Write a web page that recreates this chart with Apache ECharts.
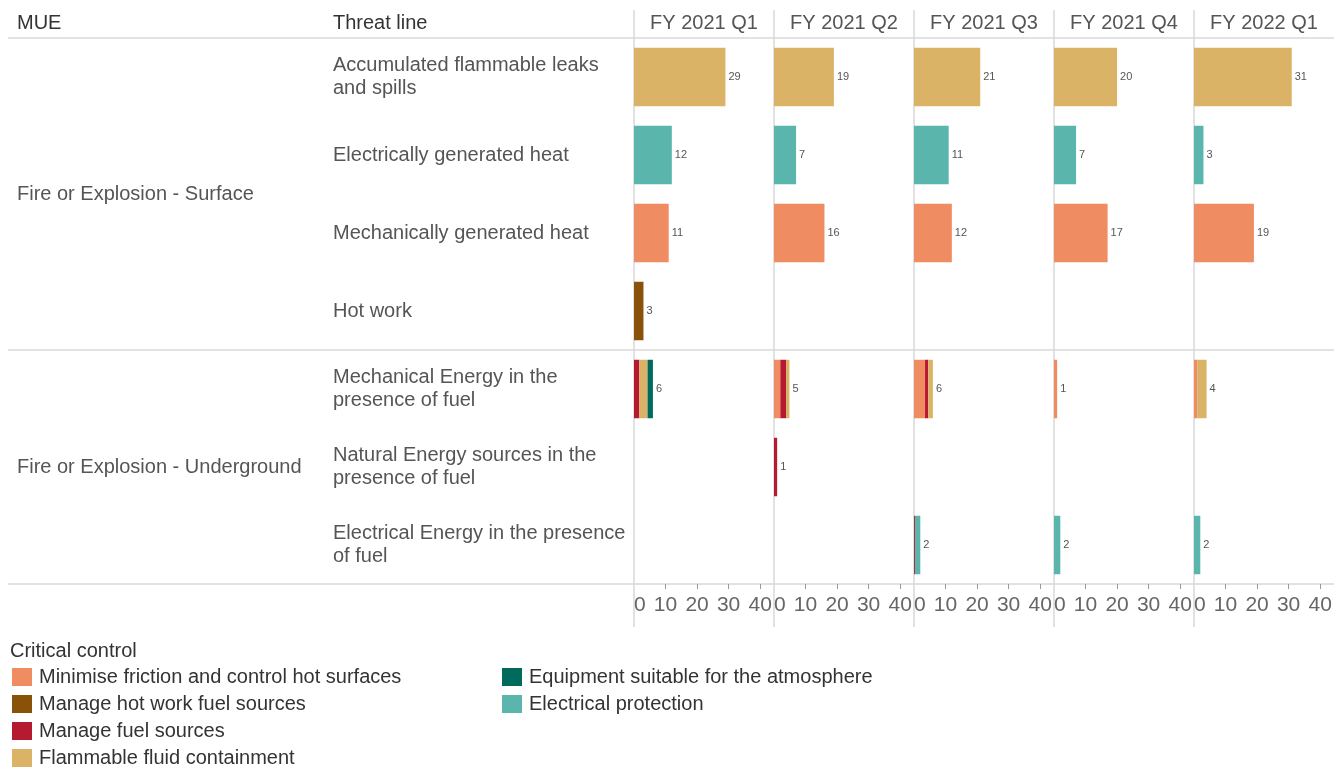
<!DOCTYPE html>
<html>
<head>
<meta charset="utf-8">
<script src="https://cdn.jsdelivr.net/npm/echarts@6/dist/echarts.min.js"></script>
<style>
  html, body { margin: 0; padding: 0; background: #fff; }
  #chart { width: 1340px; height: 767px; }
</style>
</head>
<body>
<div id="chart"></div>
<script>
// quarters (columns) and rows
const quarters = ['FY 2021 Q1', 'FY 2021 Q2', 'FY 2021 Q3', 'FY 2021 Q4', 'FY 2022 Q1']
const threats = [
  'Accumulated flammable leaks\nand spills',
  'Electrically generated heat',
  'Mechanically generated heat',
  'Hot work',
  'Mechanical Energy in the\npresence of fuel',
  'Natural Energy sources in the\npresence of fuel',
  'Electrical Energy in the presence\nof fuel'
]
const mues = ['Fire or Explosion - Surface', 'Fire or Explosion - Underground']
const mueRows = [4, 3]
const tickLabels = [0, 10, 20, 30, 40]

const controls = [
  'Minimise friction and control hot surfaces',
  'Manage hot work fuel sources',
  'Manage fuel sources',
  'Flammable fluid containment',
  'Equipment suitable for the atmosphere',
  'Electrical protection'
]
const colors = ['#f08c62', '#8a5209', '#b51a30', '#dbb366', '#006b5d', '#5ab6ac']

// values per control: one row per threat line, one value per quarter
const friction = [
  [0, 0, 0, 0, 0],
  [0, 0, 0, 0, 0],
  [11, 16, 12, 17, 19],
  [0, 0, 0, 0, 0],
  [0, 2, 3.5, 1, 1],
  [0, 0, 0, 0, 0],
  [0, 0, 0, 0, 0]
]
const hotWork = [
  [0, 0, 0, 0, 0],
  [0, 0, 0, 0, 0],
  [0, 0, 0, 0, 0],
  [3, 0, 0, 0, 0],
  [0, 0, 0, 0, 0],
  [0, 0, 0, 0, 0],
  [0, 0, 0, 0, 0]
]
const fuelSources = [
  [0, 0, 0, 0, 0],
  [0, 0, 0, 0, 0],
  [0, 0, 0, 0, 0],
  [0, 0, 0, 0, 0],
  [1.7, 1.8, 1, 0, 0],
  [0, 1, 0, 0, 0],
  [0, 0, 0.3, 0, 0]
]
const fluidContainment = [
  [29, 19, 21, 20, 31],
  [0, 0, 0, 0, 0],
  [0, 0, 0, 0, 0],
  [0, 0, 0, 0, 0],
  [2.6, 1.1, 1.5, 0, 3],
  [0, 0, 0, 0, 0],
  [0, 0, 0, 0, 0]
]
const equipment = [
  [0, 0, 0, 0, 0],
  [0, 0, 0, 0, 0],
  [0, 0, 0, 0, 0],
  [0, 0, 0, 0, 0],
  [1.7, 0, 0, 0, 0],
  [0, 0, 0, 0, 0],
  [0, 0, 0, 0, 0]
]
const electrical = [
  [0, 0, 0, 0, 0],
  [12, 7, 11, 7, 3],
  [0, 0, 0, 0, 0],
  [0, 0, 0, 0, 0],
  [0, 0, 0, 0, 0],
  [0, 0, 0, 0, 0],
  [0, 0, 1.7, 2, 2]
]
const controlData = [friction, hotWork, fuelSources, fluidContainment, equipment, electrical]

// layout
const panelLeft = 634
const panelW = 140
const gridTop = 38
const rowH = 78
const gridBottom = gridTop + rowH * threats.length
const font = '"Liberation Sans", Arial, sans-serif'
const fs = 20

let myChart = echarts.init(document.getElementById('chart'))

let grids = []
let xAxes = []
let yAxes = []
let series = []
let graphics = []

quarters.forEach((q, qi) => {
  grids.push({ left: panelLeft + panelW * qi, top: gridTop, width: panelW, height: gridBottom - gridTop })
  xAxes.push({
    gridIndex: qi,
    type: 'value',
    min: 0,
    max: 44.4,
    axisLine: { show: false },
    splitLine: { show: false },
    axisTick: { show: true, length: 5, customValues: tickLabels.slice(1), lineStyle: { color: '#999' } },
    axisLabel: {
      customValues: tickLabels,
      margin: 11,
      fontFamily: '"Liberation Sans Narrow", "Liberation Sans", sans-serif',
      fontSize: 21,
      color: '#666',
      alignMinLabel: 'left'
    }
  })
  yAxes.push({
    gridIndex: qi,
    type: 'category',
    inverse: true,
    data: threats,
    axisLine: { show: false },
    axisTick: { show: false },
    axisLabel: qi === 0 ? {
      align: 'left',
      margin: panelLeft - 333,
      fontFamily: font,
      fontSize: fs,
      lineHeight: 23,
      color: '#555'
    } : { show: false }
  })
  controls.forEach((c, ci) => {
    series.push({
      name: c,
      type: 'bar',
      xAxisIndex: qi,
      yAxisIndex: qi,
      stack: 'q' + qi,
      barCategoryGap: '25%',
      itemStyle: { color: colors[ci] },
      data: controlData[ci].map(row => row[qi] > 0 ? row[qi] : '-')
    })
  })
  // zero-width bar on top of each stack to carry the total label
  let totals = threats.map((t, ti) => controlData.reduce((s, arr) => s + arr[ti][qi], 0))
  series.push({
    name: 'total',
    type: 'bar',
    xAxisIndex: qi,
    yAxisIndex: qi,
    stack: 'q' + qi,
    itemStyle: { color: 'transparent' },
    data: totals.map(v => v > 0 ? 0 : '-'),
    label: {
      show: true,
      position: 'right',
      distance: 3,
      fontFamily: font,
      fontSize: 11,
      color: '#555',
      formatter: p => Math.round(totals[p.dataIndex])
    }
  })
  graphics.push({
    type: 'text',
    x: panelLeft + panelW * qi + panelW / 2,
    y: 23,
    style: { text: q, font: fs + 'px ' + font, fill: '#555', textAlign: 'center', textVerticalAlign: 'middle' }
  })
  graphics.push({
    type: 'line',
    shape: { x1: panelLeft + panelW * qi, y1: 10, x2: panelLeft + panelW * qi, y2: 627 },
    style: { stroke: '#d9d9d9', lineWidth: 1.5 }
  })
})

// header texts and separators
graphics.push({ type: 'text', x: 17, y: 23, style: { text: 'MUE', font: fs + 'px ' + font, fill: '#333', textVerticalAlign: 'middle' } })
graphics.push({ type: 'text', x: 333, y: 23, style: { text: 'Threat line', font: fs + 'px ' + font, fill: '#333', textVerticalAlign: 'middle' } })
let rowStart = 0
mues.forEach((m, mi) => {
  let y0 = gridTop + rowStart * rowH
  let y1 = y0 + mueRows[mi] * rowH
  graphics.push({ type: 'text', x: 17, y: (y0 + y1) / 2, style: { text: m, font: fs + 'px ' + font, fill: '#555', textVerticalAlign: 'middle' } })
  rowStart += mueRows[mi]
})
;[gridTop, gridTop + mueRows[0] * rowH, gridBottom].forEach(y => {
  graphics.push({ type: 'line', shape: { x1: 8, y1: y, x2: 1334, y2: y }, style: { stroke: '#d9d9d9', lineWidth: 1.5 } })
})
graphics.push({ type: 'text', x: 10, y: 651, style: { text: 'Critical control', font: fs + 'px ' + font, fill: '#333', textVerticalAlign: 'middle' } })

// one legend per item: two columns, 4 + 2
let legends = controls.map((c, ci) => ({
  data: [c],
  left: ci < 4 ? 12 : 502,
  top: 667 + 27 * (ci < 4 ? ci : ci - 4),
  padding: 0,
  icon: 'rect',
  itemWidth: 20,
  itemHeight: 18,
  textStyle: { fontFamily: font, fontSize: fs, color: '#333', padding: [0, 0, 0, 2] }
}))

let option = {
  animation: false,
  grid: grids,
  xAxis: xAxes,
  yAxis: yAxes,
  series: series,
  legend: legends,
  graphic: graphics
}

myChart.setOption(option)
</script>
</body>
</html>
